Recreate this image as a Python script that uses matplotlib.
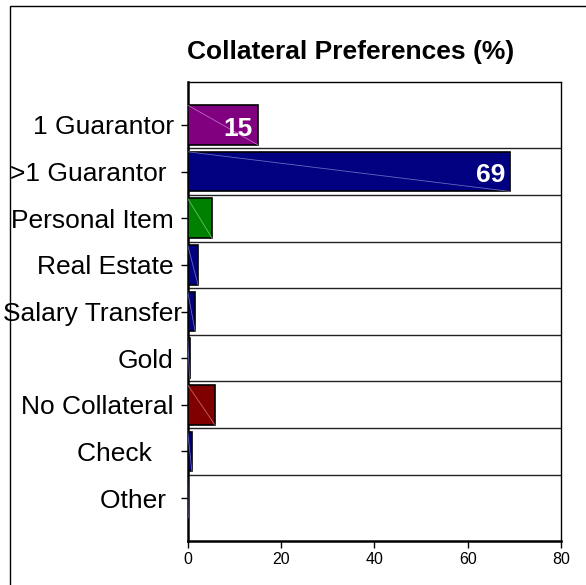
import matplotlib
matplotlib.use('Agg')
import matplotlib.pyplot as plt
from matplotlib.patches import Rectangle
from matplotlib.transforms import ScaledTranslation

# Collateral preference shares (%)
categories = ['1 Guarantor', '>1 Guarantor ', 'Personal Item', 'Real Estate',
              'Salary Transfer', 'Gold', 'No Collateral', 'Check   ', 'Other ']
values = [15, 69, 5.2, 2.2, 1.6, 0.4, 5.8, 0.9, 0.1]
bar_colors = ['#800080', '#000080', '#008000', '#000080', '#000080',
              '#000080', '#800000', '#000080', '#000080']
shine_colors = ['#d080d0', '#8080d0', '#80d080', '#8080d0', '#8080d0',
                '#8080d0', '#d08080', '#8080d0', '#8080d0']
labelled = {0: '15', 1: '69'}
x_ticks = [0, 20, 40, 60, 80]

plt.rcParams['font.family'] = ['Liberation Sans', 'DejaVu Sans']

fig = plt.figure(figsize=(5.86, 5.85), dpi=100)
ax = fig.add_axes([0.3203, 0.0752, 0.637, 0.7846])

pos = list(range(len(categories)))
h = 0.85
ax.barh(pos, values, height=h, color=bar_colors, edgecolor='black',
        linewidth=1.2, zorder=3)

# faint diagonal streak seen inside each bar
for i, v in enumerate(values):
    ax.plot([0, v], [i - h / 2, i + h / 2], color=shine_colors[i],
            linewidth=0.6, alpha=0.8, zorder=4)

for i, txt in labelled.items():
    ax.text(values[i] - 1.0, i + 0.08, txt, color='white', fontsize=19,
            fontweight='bold', ha='right', va='center', zorder=5)

# separators between categories
for y in [p + 0.5 for p in pos[:-1]]:
    ax.axhline(y, color='#222222', linewidth=1.0, zorder=2)

ax.set_xlim(0, 80)
ax.set_ylim(8.92, -0.92)
ax.set_xticks(x_ticks)
ax.set_xticklabels([str(t) for t in x_ticks], fontsize=11.5)
ax.set_yticks(pos)
ax.set_yticklabels(categories, fontsize=19)
ax.tick_params(axis='y', length=5, width=1, pad=5)
ax.tick_params(axis='x', length=5, width=1, pad=3)

# the long label sits closer to the axis in the original
lab = ax.get_yticklabels()[4]
lab.set_transform(lab.get_transform() +
                  ScaledTranslation(8 / 100, 0, fig.dpi_scale_trans))

for side in ['top', 'right']:
    ax.spines[side].set_linewidth(1.0)
for side in ['left', 'bottom']:
    ax.spines[side].set_linewidth(1.8)

fig.text(0.599, 0.911, 'Collateral Preferences (%)', fontsize=19,
         fontweight='bold', ha='center', va='center')

# outer frame of the chart area (cut off on right and bottom)
fig.patches.append(Rectangle((10 / 586, -0.1), 1.2, 1 - 6 / 585 + 0.1,
                             transform=fig.transFigure, fill=False,
                             edgecolor='black', linewidth=1.0))

fig.savefig('out.png', dpi=100)
